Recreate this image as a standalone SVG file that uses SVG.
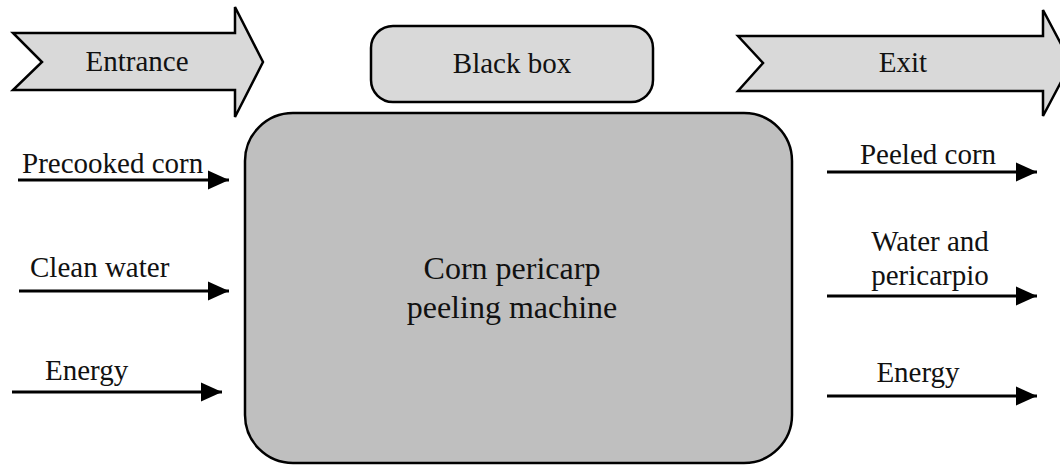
<svg xmlns="http://www.w3.org/2000/svg" width="1060" height="466" viewBox="0 0 1060 466">
<style>
.big{stroke:#000;stroke-width:2.5;fill:#d9d9d9;stroke-linejoin:miter}
.conn{stroke:#000;stroke-width:3;fill:none}
</style>
<defs>
<marker id="ah" markerWidth="7" markerHeight="6.4" refX="7" refY="3.2" orient="auto" markerUnits="strokeWidth">
<path d="M0,0 L7,3.2 L0,6.4 Z" fill="#000"/>
</marker>
</defs>
<g font-family="'Liberation Serif', 'DejaVu Serif', serif" font-size="29" fill="#111">
<g id="entrance">
<path class="big" d="M13,33 L235,33 L235,7 L263,62 L235,117 L235,90 L13,90 L42,62 Z"/>
<text x="137" y="71" text-anchor="middle">Entrance</text>
</g>
<g id="blackbox">
<rect class="big" x="371" y="26" width="282" height="76" rx="22"/>
<text x="512" y="73" text-anchor="middle">Black box</text>
</g>
<g id="exit">
<path class="big" d="M738,36 L1043,36 L1043,10 L1071,63 L1043,116 L1043,91 L738,91 L763,63 Z"/>
<text x="903" y="72" text-anchor="middle">Exit</text>
</g>
<g id="machine">
<rect x="245" y="113" width="547" height="350" rx="48" fill="#bfbfbf" stroke="#000" stroke-width="2.5"/>
<text x="512" y="279" text-anchor="middle" font-size="32">Corn pericarp</text>
<text x="512" y="318" text-anchor="middle" font-size="32">peeling machine</text>
</g>
<g id="connectors">
<line class="conn" x1="18" y1="180" x2="229" y2="180" marker-end="url(#ah)"/>
<line class="conn" x1="19" y1="291" x2="229" y2="291" marker-end="url(#ah)"/>
<line class="conn" x1="12" y1="392" x2="222" y2="392" marker-end="url(#ah)"/>
<line class="conn" x1="827" y1="172" x2="1037" y2="172" marker-end="url(#ah)"/>
<line class="conn" x1="827" y1="296" x2="1037" y2="296" marker-end="url(#ah)"/>
<line class="conn" x1="827" y1="396" x2="1037" y2="396" marker-end="url(#ah)"/>
</g>
<g id="labels">
<text x="22" y="173">Precooked corn</text>
<text x="30" y="277">Clean water</text>
<text x="45" y="380">Energy</text>
<text x="928" y="164" text-anchor="middle">Peeled corn</text>
<text x="930" y="251" text-anchor="middle">Water and</text>
<text x="930" y="285" text-anchor="middle">pericarpio</text>
<text x="918" y="382" text-anchor="middle">Energy</text>
</g>
</g>
</svg>
